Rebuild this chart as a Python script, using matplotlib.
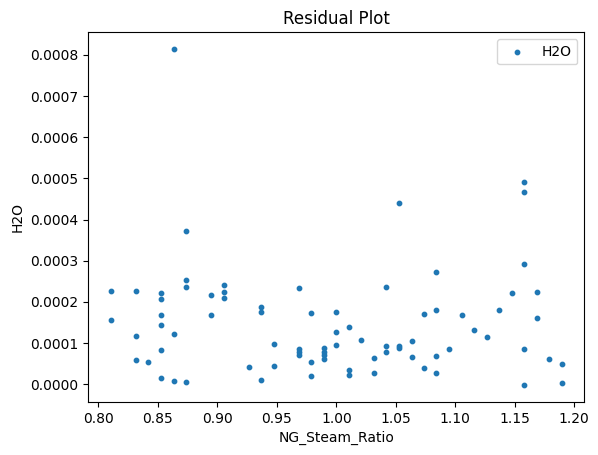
import matplotlib
matplotlib.use("Agg")
import matplotlib.pyplot as plt

ng_steam_ratio = [
    0.8105, 0.8105,
    0.8316, 0.8316, 0.8316,
    0.8421,
    0.8526, 0.8526, 0.8526, 0.8526, 0.8526, 0.8526,
    0.8632, 0.8632, 0.8632,
    0.8737, 0.8737, 0.8737, 0.8737,
    0.8947, 0.8947,
    0.9053, 0.9053, 0.9053,
    0.9263,
    0.9368, 0.9368, 0.9368,
    0.9474, 0.9474,
    0.9684, 0.9684, 0.9684, 0.9684,
    0.9789, 0.9789, 0.9789,
    0.9895, 0.9895, 0.9895, 0.9895,
    1.0000, 1.0000, 1.0000,
    1.0105, 1.0105, 1.0105,
    1.0211,
    1.0316, 1.0316,
    1.0421, 1.0421, 1.0421,
    1.0526, 1.0526, 1.0526,
    1.0632, 1.0632,
    1.0737, 1.0737,
    1.0842, 1.0842, 1.0842, 1.0842,
    1.0947,
    1.1053,
    1.1158,
    1.1263,
    1.1368,
    1.1474,
    1.1579, 1.1579, 1.1579, 1.1579, 1.1579,
    1.1684, 1.1684,
    1.1789,
    1.1895, 1.1895,
]

h2o_residual = [
    0.000227, 0.000156,
    0.000227, 0.000117, 0.000058,
    0.000054,
    0.000222, 0.000207, 0.000168, 0.000143, 0.000083, 0.000015,
    0.000814, 0.000122, 0.000007,
    0.000372, 0.000253, 0.000236, 0.000005,
    0.000216, 0.000168,
    0.000241, 0.000224, 0.000209,
    0.000041,
    0.000187, 0.000175, 0.000010,
    0.000097, 0.000044,
    0.000233, 0.000085, 0.000079, 0.000071,
    0.000173, 0.000054, 0.000019,
    0.000088, 0.000078, 0.000070, 0.000062,
    0.000175, 0.000126, 0.000095,
    0.000139, 0.000034, 0.000022,
    0.000107,
    0.000063, 0.000027,
    0.000236, 0.000092, 0.000078,
    0.000440, 0.000092, 0.000088,
    0.000105, 0.000066,
    0.000170, 0.000039,
    0.000272, 0.000180, 0.000068, 0.000027,
    0.000085,
    0.000168,
    0.000131,
    0.000114,
    0.000180,
    0.000221,
    0.000492, 0.000467, 0.000292, 0.000085, -0.000002,
    0.000224, 0.000160,
    0.000061,
    0.000049, 0.000002,
]

fig = plt.figure(figsize=(5.98, 4.55), dpi=100)
ax = fig.add_axes([0.1477, 0.1167, 0.8294, 0.8123])
ax.scatter(ng_steam_ratio, h2o_residual, s=10, color="#1f77b4", label="H2O")
ax.set_title("Residual Plot")
ax.set_xlabel("NG_Steam_Ratio")
ax.set_ylabel("H2O")
ax.legend(loc="upper right")
fig.savefig("out.png", dpi=100)
